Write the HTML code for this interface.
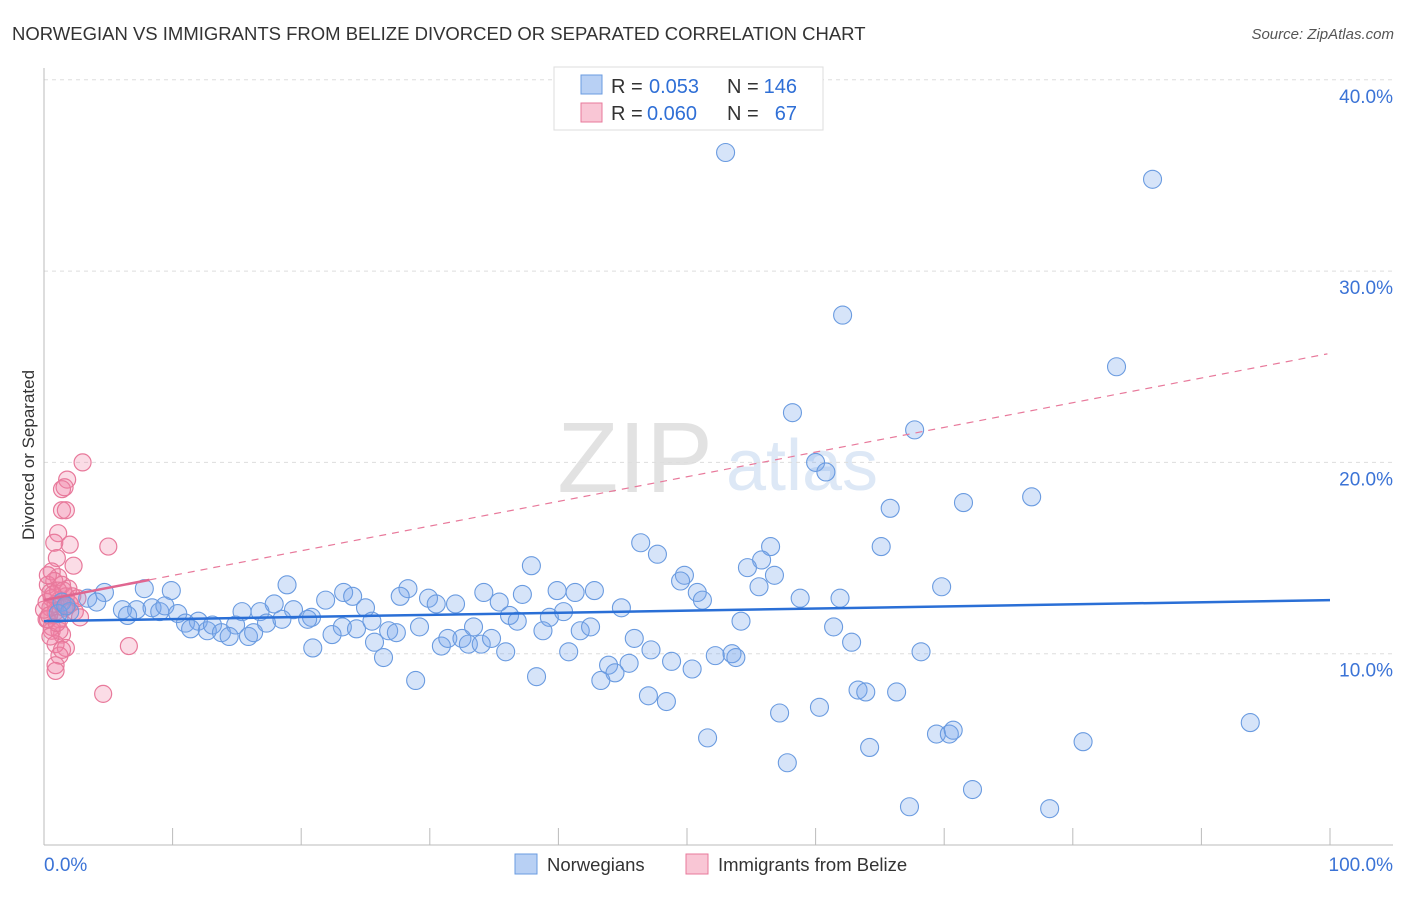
<!DOCTYPE html>
<html><head><meta charset="utf-8"><style>
body{margin:0;background:#fff;font-family:"Liberation Sans",sans-serif}
svg text{font-family:"Liberation Sans",sans-serif}
</style></head><body>
<svg id="c" width="1406" height="892">
<text x="12" y="40" font-size="18.5" fill="#333">NORWEGIAN VS IMMIGRANTS FROM BELIZE DIVORCED OR SEPARATED CORRELATION CHART</text>
<text x="1394" y="39" font-size="15" fill="#555" text-anchor="end" font-style="italic">Source: ZipAtlas.com</text>
<g><text x="635" y="492" font-size="100" fill="#e2e2e2" text-anchor="middle" font-family="Liberation Serif">ZIP</text><text x="802" y="490" font-size="72" fill="#dde8f6" text-anchor="middle">atlas</text></g>
<g id="grid"></g><g id="ticks"></g>
<line x1="44" y1="68" x2="44" y2="845" stroke="#bbb"/>
<line x1="44" y1="845" x2="1393" y2="845" stroke="#bbb"/>
<text x="34" y="455" font-size="17" fill="#333" text-anchor="middle" transform="rotate(-90 34 455)">Divorced or Separated</text>
<g id="pts"></g><g id="lines"></g>
<g>
<rect x="554" y="67" width="269" height="63" fill="#fff" stroke="#ddd"/>
<rect x="581" y="75" width="21" height="19" fill="#b8d0f4" stroke="#6a9be0"/>
<rect x="581" y="103" width="21" height="19" fill="#f9c6d5" stroke="#e8799b"/>
<text x="611" y="93" font-size="20" fill="#333">R =</text><text x="649" y="93" font-size="20" fill="#2f6fd6">0.053</text>
<text x="727" y="93" font-size="20" fill="#333">N =</text><text x="797" y="93" font-size="20" fill="#2f6fd6" text-anchor="end">146</text>
<text x="611" y="120" font-size="20" fill="#333">R =</text><text x="647" y="120" font-size="20" fill="#2f6fd6">0.060</text>
<text x="727" y="120" font-size="20" fill="#333">N =</text><text x="797" y="120" font-size="20" fill="#2f6fd6" text-anchor="end">67</text>
</g>
<g>
<rect x="515" y="854" width="22" height="20" fill="#b8d0f4" stroke="#6a9be0"/>
<text x="547" y="871" font-size="18.5" fill="#333">Norwegians</text>
<rect x="686" y="854" width="22" height="20" fill="#f9c6d5" stroke="#e8799b"/>
<text x="718" y="871" font-size="18.5" fill="#333">Immigrants from Belize</text>
</g>
<text x="44" y="871" font-size="19" fill="#3b73d6">0.0%</text>
<text x="1393" y="871" font-size="19" fill="#3b73d6" text-anchor="end">100.0%</text>
</svg>
<script>
const yTicks=[10,20,30,40];
const blueX=[53,86.2,62.1,83.4,58.2,67.7,60,60.8,76.8,71.5,65.8,46.4,47.7,56.5,65.1,55.8,37.9,54.7,49.8,49.5,56.8,55.6,69.8,50.8,51.2,58.8,61.9,28.3,27.7,18.9,23.3,24,34.2,37.2,39.9,41.3,42.8,44.9,29.9,30.5,32,35.4,21.9,17.9,25,15.4,16.8,19.4,20.8,36.2,39.3,40.4,7.8,9.9,4.7,3.4,4.1,6.1,7.2,8.4,9,9.4,6.5,10.4,11,12,11.4,12.7,13.1,13.8,14.9,14.4,15.9,16.3,17.3,18.5,20.5,23.2,22.4,20.9,24.3,25.5,25.7,26.8,27.4,26.4,29.2,30.9,31.4,32.5,33,33.4,34,34.8,35.9,28.9,36.8,38.8,40.8,41.7,42.5,38.3,45.9,47.2,43.9,45.5,44.4,43.3,48.8,50.4,52.2,53.5,53.8,54.2,47,48.4,51.6,57.2,60.3,57.8,61.4,62.8,63.3,63.9,66.3,64.2,68.2,69.4,70.4,70.7,67.3,72.2,78.2,80.8,93.8,1.4,2,1.1,1.7];
const blueY=[36.2,34.8,27.7,25,22.6,21.7,20,19.5,18.2,17.9,17.6,15.8,15.2,15.6,15.6,14.9,14.6,14.5,14.1,13.8,14.1,13.5,13.5,13.2,12.8,12.9,12.9,13.4,13,13.6,13.2,13,13.2,13.1,13.3,13.2,13.3,12.4,12.9,12.6,12.6,12.7,12.8,12.6,12.4,12.2,12.2,12.3,11.9,12,11.9,12.2,13.4,13.3,13.2,12.9,12.7,12.3,12.3,12.4,12.2,12.5,12,12.1,11.6,11.7,11.3,11.2,11.5,11.1,11.5,10.9,10.9,11.1,11.6,11.8,11.8,11.4,11,10.3,11.3,11.7,10.6,11.2,11.1,9.8,11.4,10.4,10.8,10.8,10.5,11.4,10.5,10.8,10.1,8.6,11.7,11.2,10.1,11.2,11.4,8.8,10.8,10.2,9.4,9.5,9,8.6,9.6,9.2,9.9,10,9.8,11.7,7.8,7.5,5.6,6.9,7.2,4.3,11.4,10.6,8.1,8,8,5.1,10.1,5.8,5.8,6,2,2.9,1.9,5.4,6.4,12.7,12.2,12.1,12.5];
const pinkX=[3,1.8,1.4,1.6,1.4,1.7,1.1,2,0.8,5,2.3,1,0.6,1.1,0.3,1.4,1.9,0.6,1.2,2.2,0.5,0.9,1.6,2.4,0.3,1.2,2.8,0.6,1.4,0.9,1.7,1.2,0.9,0.9,6.6,4.6,0.5,0.8,0.2,1.1,1.7,2,0.2,0.6,1.2,1.5,0.3,0.9,0,1.4,0.5,0.4,1.8,2.6,0.7,1];
const pinkY=[20,19.1,18.6,18.7,17.5,17.5,16.3,15.7,15.8,15.6,14.6,15,14.3,14,13.6,13.6,13.4,12.9,12.8,13,12.4,12.2,12.4,12.2,11.8,11.8,11.9,11.2,11,10.5,10.3,9.9,9.4,9.1,10.4,7.9,13.2,13.8,12.7,13.3,13,12.6,11.8,11.4,11.2,13.3,14.1,12.6,12.3,10.2,10.9,12,12.5,12.9,13.1,11.6];
const blueTrend=[11.7,12.8];
const pinkTrend=[12.8,25.7];
const X=v=>44+v*12.86, Y=v=>845-v*19.13;
const NS="http://www.w3.org/2000/svg";
const mk=(t,a,p)=>{const e=document.createElementNS(NS,t);for(const k in a)e.setAttribute(k,a[k]);p.appendChild(e);return e;};
const grid=document.getElementById('grid'),ticks=document.getElementById('ticks'),pts=document.getElementById('pts'),lines=document.getElementById('lines');
yTicks.forEach(t=>{
 const l=mk('line',{x1:44,x2:1393,y1:Y(t),y2:Y(t),stroke:'#ddd','stroke-dasharray':'4,4'},grid);
 
 
 const tx=mk('text',{x:1393,y:Y(t)+23,'font-size':19,fill:'#3b73d6','text-anchor':'end'},ticks);
 tx.textContent=t.toFixed(1)+'%';
 
 
});
for(let i=0;i<=10;i++){
 const l=mk('line',{x1:X(i*10),x2:X(i*10),y1:828,y2:845,stroke:'#bbb'},ticks);
 
 
}
pinkX.forEach((x,i)=>{
 const c=mk('circle',{cx:X(x),cy:Y(pinkY[i]),r:8.5,fill:'rgba(240,130,165,0.28)',stroke:'#e8799b','stroke-width':1.2},pts);
 
 
});
blueX.forEach((x,i)=>{
 const c=mk('circle',{cx:X(x),cy:Y(blueY[i]),r:9,fill:'rgba(120,165,235,0.3)',stroke:'#6a9be0','stroke-width':1.1},pts);
 
 
});
const bl=mk('line',{x1:X(0),y1:Y(blueTrend[0]),x2:X(100),y2:Y(blueTrend[1]),stroke:'#2a6fd6','stroke-width':2.5},lines);


const pe=v=>pinkTrend[0]+(pinkTrend[1]-pinkTrend[0])*v/100;
const pd=mk('line',{x1:X(8.2),y1:Y(pe(8.2)),x2:X(99.8),y2:Y(pe(99.8)),stroke:'#e8799b','stroke-width':1.2,'stroke-dasharray':'7,6'},lines);


const ps=mk('line',{x1:X(0),y1:Y(pe(0)),x2:X(8.2),y2:Y(pe(8.2)),stroke:'#e06690','stroke-width':2.5},lines);


</script>
</body></html>
